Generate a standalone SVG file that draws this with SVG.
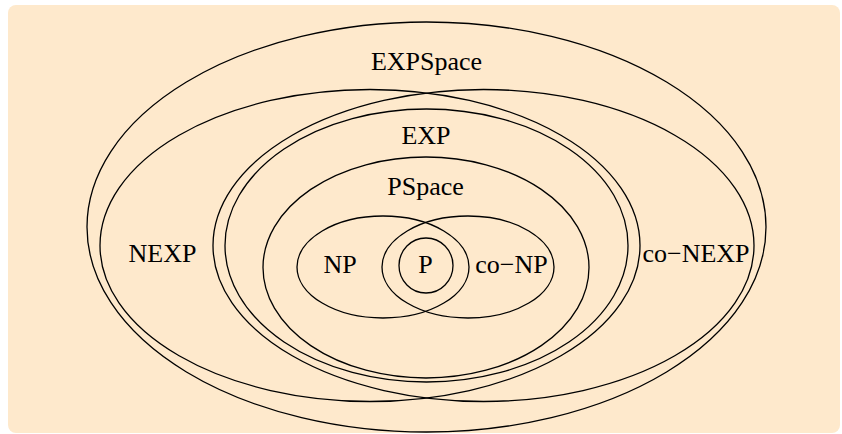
<svg xmlns="http://www.w3.org/2000/svg" width="842" height="434" viewBox="0 0 842 434">
<style>
.set{fill:none;stroke:#000;stroke-width:1.3}
.lbl{font-family:"Liberation Serif","Times New Roman",serif;font-size:26px;fill:#000;text-anchor:middle}
</style>
<rect x="8" y="5" width="832" height="428" rx="8" fill="#FEE9CC"/>
<g id="EXPSpace">
<ellipse class="set" cx="426.5" cy="227" rx="339.5" ry="205"/>
<text class="lbl" x="426.5" y="69.5">EXPSpace</text>
</g>
<g id="NEXP">
<ellipse class="set" cx="370" cy="245.5" rx="270" ry="156"/>
<text class="lbl" x="162.5" y="262">NEXP</text>
</g>
<g id="coNEXP">
<ellipse class="set" cx="483.5" cy="245.5" rx="270.5" ry="156"/>
<text class="lbl" x="696" y="262">co−NEXP</text>
</g>
<g id="EXP">
<ellipse class="set" cx="426.5" cy="245.5" rx="201.5" ry="136.5"/>
<text class="lbl" x="426" y="144">EXP</text>
</g>
<g id="PSpace">
<ellipse class="set" cx="426" cy="267.5" rx="163" ry="110.5"/>
<text class="lbl" x="425.5" y="195">PSpace</text>
</g>
<g id="NP">
<ellipse class="set" cx="383" cy="267" rx="86" ry="51"/>
<text class="lbl" x="340" y="273">NP</text>
</g>
<g id="coNP">
<ellipse class="set" cx="468" cy="267" rx="86" ry="51"/>
<text class="lbl" x="511.5" y="273">co−NP</text>
</g>
<g id="P">
<ellipse class="set" cx="426" cy="265.5" rx="27" ry="27.5"/>
<text class="lbl" x="425.5" y="273">P</text>
</g>
<g id="connectors"/>
</svg>
